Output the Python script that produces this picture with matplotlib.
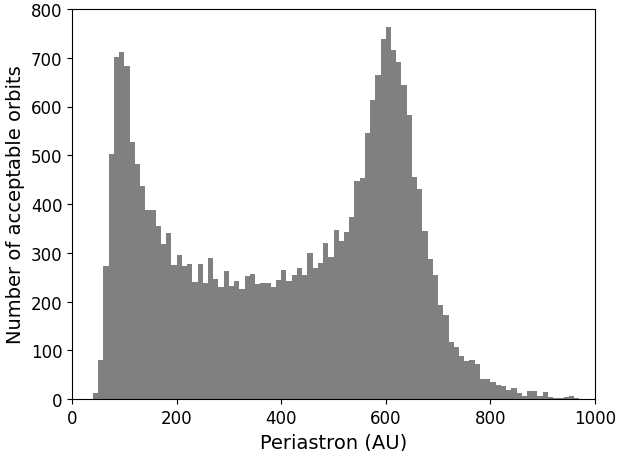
import numpy as np
import matplotlib
matplotlib.use("Agg")
import matplotlib.pyplot as plt

# periastron histogram, 10 AU bins from 0 to 1000
bin_edges = np.arange(0, 1010, 10)
counts = [
    0, 0, 0, 1, 12, 79, 272, 503, 702, 712,
    683, 527, 482, 436, 387, 387, 354, 317, 341, 274,
    296, 273, 276, 241, 276, 237, 290, 247, 229, 263,
    231, 243, 226, 252, 257, 235, 237, 237, 229, 245,
    265, 243, 254, 268, 254, 300, 268, 280, 321, 291,
    346, 325, 342, 373, 447, 453, 545, 613, 665, 739,
    764, 716, 691, 644, 583, 455, 430, 344, 288, 255,
    193, 173, 117, 107, 89, 77, 81, 72, 42, 41,
    34, 29, 26, 19, 23, 13, 7, 16, 16, 7,
    14, 5, 3, 2, 5, 7, 3, 1, 1, 1,
]

fig = plt.figure(figsize=(6.17, 4.52), dpi=100)
ax = fig.add_axes([72 / 617, 1 - 400 / 452, 523 / 617, 390 / 452])
ax.hist(bin_edges[:-1], bins=bin_edges, weights=counts, color='gray')
ax.set_xlim(0, 1000)
ax.set_ylim(0, 800)
ax.set_xlabel('Periastron (AU)', fontsize=14)
ax.set_ylabel('Number of acceptable orbits', fontsize=14)
ax.tick_params(labelsize=12)
fig.savefig('out.png', dpi=100)
